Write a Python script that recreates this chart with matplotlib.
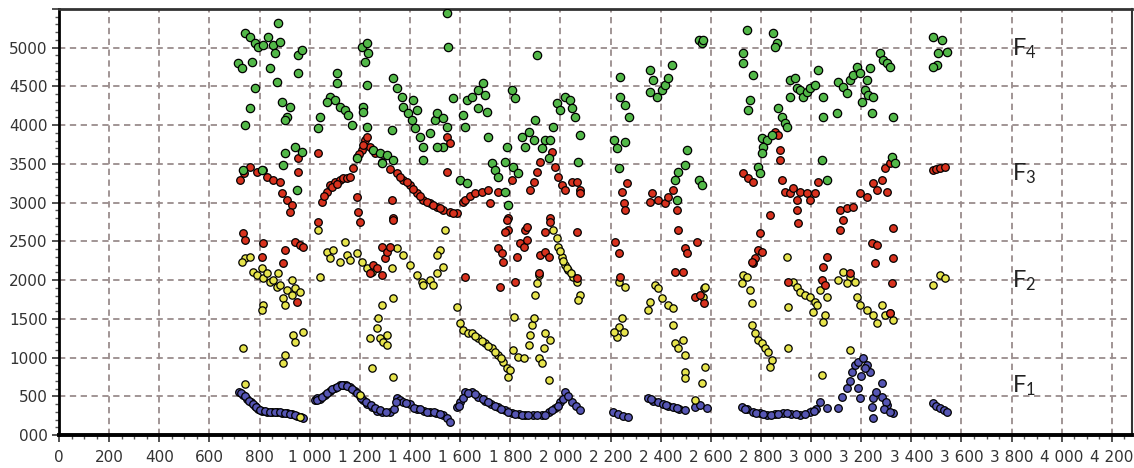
import matplotlib
matplotlib.use("Agg")
import matplotlib.pyplot as plt
from matplotlib.ticker import MultipleLocator, FuncFormatter

plt.rcParams['mathtext.default'] = 'regular'

# F1 (blue)
f1_x = [720, 735, 750, 765, 780, 795, 810, 830, 850, 870, 890, 910, 930, 950, 965, 975,
        725, 742, 757, 772, 787, 802, 820, 840, 860, 880, 900, 920, 940,
        1020, 1028, 1040, 1060, 1080, 1100, 1120, 1133, 1145, 1160, 1180, 1200, 1213, 1230,
        1250, 1268, 1290, 1320, 1335, 1348, 1360, 1373, 1400, 1428, 1455, 1480, 1505, 1532,
        1548, 1560,
        1030, 1050, 1070, 1090, 1110, 1130, 1150, 1170, 1190, 1205, 1225, 1245, 1260, 1280,
        1305, 1345, 1385, 1415, 1440, 1470, 1495, 1520,
        1587, 1600, 1620, 1647, 1672, 1700, 1725, 1751, 1780, 1807, 1835, 1859,
        1890, 1927, 1955, 1979, 2000, 2019, 2046, 2062, 2078,
        1595, 1610, 1630, 1660, 1690, 1712, 1738, 1765, 1790, 1820, 1845, 1870, 1905, 1940,
        1965, 1990, 2010, 2030,
        2210, 2230, 2250, 2270,
        2350, 2370, 2390, 2410, 2430, 2450, 2475, 2497, 2537, 2557, 2585, 2360, 2420, 2465,
        2724, 2745, 2768, 2795, 2824, 2855, 2888, 2920, 2956, 2996, 3020, 3036, 3063,
        2735, 2780, 2810, 2840, 2870, 2905, 2940, 2975, 3010,
        3108, 3124, 3143, 3163, 3175, 3187, 3207, 3223, 3235, 3187, 3195, 3247, 3243, 3247,
        3283, 3283, 3303, 3327, 3260, 3300, 3155, 3200, 3215, 3290, 3315,
        3487, 3500, 3515, 3530, 3542]
f1_y = [560, 520, 470, 420, 380, 340, 310, 300, 300, 295, 290, 280, 270, 250, 230, 225,
        545, 500, 445, 400, 360, 325, 305, 300, 298, 292, 285, 275, 260,
        450, 480, 470, 520, 570, 610, 640, 650, 640, 620, 570, 510, 450, 400,
        360, 310, 300, 297, 330, 478, 450, 426, 400, 340, 310, 297, 290, 258,
        220, 168,
        455, 490, 545, 590, 625, 645, 635, 600, 540, 480, 430, 385, 350, 320,
        300, 430, 410, 355, 330, 300, 295, 270,
        361, 420, 555, 560, 490, 440, 400, 361, 320, 284, 270, 258,
        260, 258, 300, 348, 420, 555, 426, 380, 323,
        380, 480, 540, 530, 460, 420, 380, 340, 300, 275, 262, 255, 258, 262,
        320, 380, 470, 500,
        300, 270, 250, 230,
        478, 440, 420, 400, 380, 360, 340, 323, 361, 387, 348, 460, 390, 350,
        361, 330, 297, 280, 258, 270, 284, 270, 258, 297, 340, 426, 348,
        340, 290, 265, 260, 275, 280, 265, 275, 310,
        348, 490, 606, 813, 904, 942, 994, 904, 813, 606, 478, 478, 361, 219,
        671, 490, 387, 284, 560, 430, 700, 760, 860, 330, 300,
        413, 380, 350, 320, 297]

# F2 (yellow)
f2_x = [742, 729, 762, 775, 788, 808, 815, 828, 842, 855, 868, 882, 875, 908, 928, 928,
        941, 961, 895, 901, 815, 808, 935, 941, 975, 901, 895, 735, 742, 961, 1201,
        1041, 1035, 1068, 1081, 1094, 1121, 1141, 1147, 1161, 1187, 1207, 1227, 1247,
        1327, 1347, 1373, 1400, 1427, 1447, 1480, 1507, 1520, 1507, 1533, 1540, 1493,
        1453, 1287, 1334, 1274, 1267, 1280, 1307, 1294, 1240, 1307, 1247, 1334,
        1586, 1599, 1613, 1633, 1647, 1673, 1700, 1726, 1753, 1773, 1786, 1793, 1800,
        1813, 1833, 1853, 1873, 1879, 1886, 1893, 1817, 1913, 1926, 1939, 1959, 1933,
        1953, 1899, 1906, 1913, 1972, 1992, 2006, 2019, 2032, 2052, 2066, 2079, 2072,
        1660, 1687, 1713, 1740, 1762, 1985, 2000, 2012, 2026, 2042,
        2232, 2258, 2245, 2232, 2225, 2252, 2212,
        2378, 2391, 2405, 2431, 2451, 2358, 2351, 2451, 2458, 2471, 2491, 2498, 2498,
        2498, 2564, 2538, 2571, 2577, 2570, 2577,
        2730, 2743, 2723, 2757, 2763, 2763, 2776, 2790, 2803, 2816, 2830, 2843, 2836,
        2903, 2909, 2909, 2929, 2943, 2956, 2976, 2996, 3016, 3009, 3022, 3036, 3062,
        3056, 3049, 3043,
        3109, 3129, 3156, 3142, 3175, 3182, 3196, 3222, 3249, 3262, 3282, 3295, 3315,
        3328, 3156, 3488, 3515, 3535]
f2_y = [2281, 2238, 2302, 2108, 2065, 2152, 2022, 2087, 1979, 2001, 1915, 1936, 2087,
        1872, 2001, 1807, 1893, 1850, 1764, 1678, 1678, 1614, 1291, 1205, 1334, 1033,
        925, 1119, 654, 237, 516,
        2044, 2646, 2367, 2281, 2389, 2238, 2496, 2324, 2259, 2345, 2238, 2152, 2108,
        2152, 2410, 2324, 2195, 2065, 1979, 2001, 2087, 2389, 2324, 2173, 2646, 1936,
        1936, 1678, 1764, 1506, 1377, 1248, 1291, 1205, 1248, 1162, 861, 753,
        1657, 1441, 1355, 1312, 1312, 1248, 1183, 1119, 1033, 947, 861, 753, 839,
        1097, 1011, 990, 1162, 1291, 1420, 1506, 1528, 990, 925, 1312, 1226, 1119,
        710, 1807, 1958, 2065, 2646, 2431, 2302, 2195, 2130, 2044, 1979, 1807, 1743,
        1280, 1215, 1150, 1075, 990, 2540, 2370, 2250, 2160, 2090,
        1979, 1915, 1506, 1398, 1269, 1334, 1334,
        1936, 1893, 1764, 1678, 1635, 1721, 1614, 1420, 1183, 1119, 1226, 1033, 818,
        732, 667, 452, 1893, 1915, 1786, 882,
        2065, 2044, 1958, 1872, 1700, 1420, 1312, 1226, 1183, 1119, 1076, 968, 882,
        2302, 1657, 1119, 1979, 1915, 1850, 1807, 1786, 1721, 1592, 1678, 1872, 1786,
        1549, 1463, 775,
        2001, 2108, 2044, 1958, 1979, 1786, 1678, 1614, 1549, 1441, 1678, 1549, 1571,
        1485, 1097, 1936, 2065, 2022]

# F3 (red)
f3_x = [722, 740, 762, 788, 815, 828, 855, 882, 888, 908, 928, 921, 955, 955,
        1035, 1048, 1068, 1081, 1100, 1120, 1134, 1150, 1161, 1174, 1187, 1207, 1220, 1227,
        1187, 1194, 1327, 1334, 1241, 1260, 1290, 1320, 1347, 1373, 1400, 1427, 1453, 1480,
        1507, 1533, 1560, 1586, 1613, 1547, 1560, 1547,
        1058, 1090, 1110, 1196, 1214, 1360, 1387, 1414, 1440, 1467, 1493, 1520, 1573,
        735, 742, 815, 808, 895, 901, 941, 961, 975, 948, 1035, 1201, 1334, 1287, 1300,
        1254, 1267, 1241, 1307, 1320, 1287, 1620,
        1620, 1640, 1660, 1687, 1713, 1753, 1720, 1806, 1879, 1893, 1906, 1919, 1966, 1979,
        1992, 2006, 2019, 2046, 2066, 2079, 2079,
        2245, 2265, 2252, 2258, 2365, 2391, 2418, 2431, 2451, 2465, 2358, 1793, 1959,
        1786, 1793, 1780, 1859, 1866, 1753, 1766, 1773, 1826, 1839, 1853, 1866, 1939,
        1959, 1919, 1939, 1953, 1820, 1760, 1913, 2066, 2066, 2218, 2232, 2238, 2471,
        2498, 2505, 2544, 2458, 2491, 2538, 2558, 2571,
        2730, 2750, 2770, 2856, 2870, 2876, 2876, 2883, 2896, 2916, 2929, 2943, 2956,
        2983, 2996, 3016, 3029, 2943, 2836, 3116, 3142, 3169, 3196, 3222, 3249, 3262,
        3282, 3295, 3315, 3302, 3488, 3500, 3515, 3535,
        2796, 2790, 2776, 2770, 2763, 2803, 2949, 3062, 3049, 3043, 3056, 2909, 3116,
        3129, 3156, 3242, 3262, 3255, 3328, 3328, 3322, 3315]
f3_y = [3292, 3380, 3464, 3400, 3421, 3335, 3292, 3271, 3120, 3034, 2970, 2884, 3400, 3572,
        3637, 3013, 3142, 3228, 3260, 3290, 3314, 3320, 3335, 3443, 3594, 3680, 3809, 3852,
        3077, 2884, 3034, 2797, 3723, 3640, 3520, 3440, 3378, 3292, 3228, 3120, 3034, 2991,
        2948, 2905, 2884, 2862, 3013, 3852, 3766, 3400,
        3080, 3200, 3240, 3630, 3740, 3330, 3260, 3170, 3080, 3010, 2970, 2925, 2870,
        2603, 2517, 2474, 2302, 2216, 2388, 2496, 2453, 2431, 1721, 2754, 2754, 2775,
        2431, 2281, 2195, 2152, 2087, 2367, 2431, 2065, 2044,
        3034, 3080, 3120, 3142, 3163, 3142, 2991, 3292, 3163, 3271, 3400, 3529, 3658, 3464,
        3335, 3228, 3163, 3271, 3271, 3163, 3120,
        3142, 3249, 2991, 2905, 3120, 3034, 2991, 3077, 3163, 2905, 3013, 2797, 2797,
        2775, 2646, 2625, 2646, 2689, 2410, 2345, 2238, 2302, 2474, 2431, 2517, 2625,
        2754, 2324, 2367, 2302, 1979, 1915, 2087, 2625, 2022, 2496, 2345, 2044, 2646,
        2410, 2345, 2496, 2108, 2108, 1786, 1807, 1700,
        3378, 3314, 3271, 3916, 3873, 3680, 3551, 3292, 3142, 3120, 3185, 3034, 3142,
        3120, 3034, 3120, 3271, 2905, 2840, 2905, 2927, 2948, 3120, 3077, 3249, 3163,
        3292, 3443, 3508, 3142, 3421, 3430, 3443, 3464,
        2603, 2388, 2281, 2216, 2238, 2367, 2732, 2302, 2173, 2001, 1936, 1979, 2646,
        2775, 2087, 2474, 2453, 2216, 2668, 2281, 1958, 1571]

# F4 (green)
f4_x = [742, 762, 782, 795, 815, 835, 855, 862, 882, 875, 715, 729, 768, 842, 782, 868,
        762, 742, 888, 921, 908, 901, 955, 955, 968, 941, 968, 901, 895, 948, 735, 808,
        1108, 1108, 1081, 1101, 1121, 1141, 1154, 1167, 1041, 1035, 1068, 1207, 1227, 1234,
        1220, 1227, 1214, 1214, 1227, 1254, 1280, 1307, 1334, 1287, 1187, 1334, 1347, 1367,
        1373, 1394, 1414, 1427, 1407, 1420, 1440, 1453, 1453, 1480, 1500, 1507, 1533, 1547,
        1533, 1507, 1573, 1613, 1626, 1553, 1547, 1600, 1327,
        1620, 1627, 1647, 1673, 1693, 1700, 1673, 1706, 1713, 1726, 1740, 1753, 1780, 1793,
        1786, 1806, 1820, 1780, 1813, 1833, 1846, 1859, 1873, 1893, 1899, 1906, 1926, 1939,
        1953, 1959, 1972, 1986, 1999, 2019, 2039, 2046, 2059, 2079, 2072,
        2238, 2238, 2258, 2272, 2212, 2258, 2225, 2232, 2358, 2371, 2385, 2405, 2418, 2431,
        2445, 2358, 2504, 2498, 2471, 2458, 2551, 2564, 2551, 2564, 2465,
        2570, 2743, 2730, 2730, 2770, 2757, 2750, 2850, 2863, 2856, 2870, 2883, 2896, 2903,
        2803, 2823, 2843, 2810, 2803, 2790, 2796, 2916, 2936, 2943, 2956, 2916, 2969, 2983,
        2996, 3016, 3029, 3049, 3049, 3102, 3109, 3129, 3142, 3156, 3169, 3182, 3196, 3222,
        3235, 3215, 3229, 3249, 3202, 3242, 3275, 3288, 3302, 3315, 3328, 3322, 3335, 3043,
        3062, 3488, 3521, 3508, 3541, 3501, 3488]
f4_y = [5186, 5143, 5057, 5014, 5035, 5143, 5035, 4928, 5078, 5315, 4798, 4734, 4820, 4734,
        4476, 4562, 4217, 4002, 4304, 4239, 4110, 4067, 4669, 4906, 4971, 3723, 3658, 3637,
        3486, 3163, 3421, 3421,
        4669, 4540, 4368, 4325, 4239, 4196, 4131, 4002, 4110, 3959, 4304, 5014, 5057, 4928,
        4820, 4519, 4239, 4175, 3981, 3680, 3637, 3615, 3551, 3508, 3572, 4605, 4476, 4368,
        4239, 4153, 4325, 4196, 4067, 3959, 3852, 3723, 3551, 3895, 4067, 4153, 4088, 3981,
        3723, 3723, 4347, 4131, 4325, 5014, 5444, 3292, 3938,
        3981, 3249, 4368, 4454, 4540, 4390, 4217, 4175, 3852, 3508, 3421, 3335, 3142, 2970,
        3723, 4454, 4347, 3529, 3464, 3378, 3852, 3723, 3916, 3809, 4067, 4906, 3701, 3809,
        3572, 3809, 3981, 4282, 4196, 4368, 4325, 4217, 4110, 3873, 3529,
        4626, 4368, 4261, 4110, 3809, 3787, 3701, 3443, 4712, 4583, 4368, 4454, 4519, 4605,
        4777, 4433, 3680, 3486, 3400, 3292, 3292, 3228, 5100, 5057, 3034,
        5100, 5229, 4928, 4798, 4648, 4325, 4196, 5186, 5057, 5014, 4217, 4110, 4024, 3981,
        3830, 3809, 3873, 3723, 3637, 3464, 3378, 4583, 4605, 4476, 4454, 4368, 4368, 4433,
        4476, 4519, 4712, 4368, 4110, 4153, 4562, 4497, 4411, 4583, 4648, 4756, 4669, 4583,
        4734, 4454, 4390, 4368, 4304, 4153, 4928, 4841, 4798, 4756, 4110, 3594, 3508, 3551,
        3292, 5143, 5100, 4928, 4949, 4777, 4756]

labels = ["1", "2", "3", "4"]
label_x = [3800, 3800, 3800, 3800]
label_y = [640, 1990, 3370, 4990]


def thousands(v, pos):
    v = int(round(v))
    if v >= 1000:
        return "{:,}".format(v).replace(",", " ")
    return str(v)


def ylabel_fmt(v, pos):
    if v > 5000:
        return ""
    if v == 0:
        return "000"
    return str(int(v))


def main():
    fig = plt.figure(figsize=(11.34, 4.68), dpi=100)
    ax = fig.add_axes([0.052, 0.0705, 0.9462, 0.9103])

    ax.scatter(f1_x, f1_y, s=30, c='#5656b4', edgecolors='black', linewidths=0.9, zorder=3)
    ax.scatter(f2_x, f2_y, s=28, c='#e6e44c', edgecolors='black', linewidths=0.9, zorder=4)
    ax.scatter(f3_x, f3_y, s=30, c='#d8321e', edgecolors='black', linewidths=0.9, zorder=5)
    ax.scatter(f4_x, f4_y, s=36, c='#52b848', edgecolors='black', linewidths=0.9, zorder=6)

    for lab, lx, ly in zip(labels, label_x, label_y):
        ax.text(lx, ly, "F$_{" + lab + "}$", fontsize=17, family='Lato', color='#222222',
                ha='left', va='center', zorder=7)

    ax.set_xlim(0, 4280)
    ax.set_ylim(0, 5500)
    ax.xaxis.set_major_locator(MultipleLocator(200))
    ax.xaxis.set_minor_locator(MultipleLocator(50))
    ax.yaxis.set_major_locator(MultipleLocator(500))
    ax.yaxis.set_minor_locator(MultipleLocator(100))
    ax.xaxis.set_major_formatter(FuncFormatter(thousands))
    ax.yaxis.set_major_formatter(FuncFormatter(ylabel_fmt))

    ax.tick_params(which='major', length=5, width=1.2, color='#333333',
                   labelsize=11, labelcolor='#333333', pad=3)
    ax.tick_params(which='minor', length=3, width=1, color='#555555')
    ax.tick_params(axis='x', which='major', pad=6)

    ax.grid(True, which='major', linestyle=(0, (3.5, 2.5)), color='#9a8c8c', linewidth=1.3)
    ax.set_axisbelow(True)

    ax.spines['left'].set_linewidth(2)
    ax.spines['bottom'].set_linewidth(2.8)
    ax.spines['top'].set_linewidth(2)
    ax.spines['top'].set_color('#333333')
    ax.spines['right'].set_linewidth(1.5)
    ax.spines['right'].set_color('#333333')

    fig.savefig("out.png", dpi=100)


if __name__ == "__main__":
    main()
